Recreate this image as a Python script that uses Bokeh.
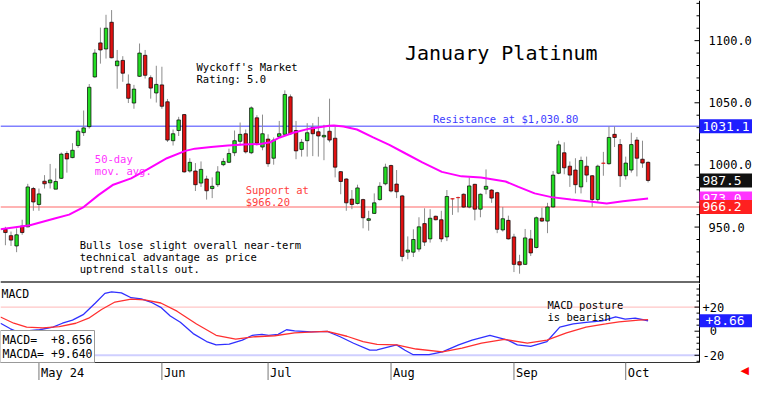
from bokeh.plotting import figure
from bokeh.models import Range1d, Label
from bokeh.layouts import column
from bokeh.embed import file_html
from bokeh.resources import INLINE
from bokeh.core.properties import value

# ---------------- data ----------------
opens = [948.2, 943.1, 934.8, 950.8, 950.2, 981.0, 968.2, 986.9, 985.6, 980.5,
         989.2, 1009.2, 1005.9, 1015.6, 1026.0, 1030.8, 1070.8, 1098.2, 1093.3, 1114.8,
         1079.8, 1084.1, 1065.1, 1049.8, 1071.3, 1088.2, 1070.2, 1057.9, 1064.4, 1050.8,
         1019.5, 1027.7, 1040.5, 995.1, 995.1, 985.4, 988.7, 981.0, 984.1, 1000.2,
         1002.1, 1009.8, 1019.0, 1025.1, 1009.8, 1037.9, 1014.4, 1020.8, 1005.4, 1022.8,
         1024.6, 1054.8, 1027.7, 1012.5, 1019.5, 1030.2, 1026.7, 1022.5, 1027.1, 1021.5,
         994.6, 988.7, 972.5, 969.0, 972.1, 955.4, 961.0, 972.1, 984.8, 999.5,
         984.6, 975.1, 929.8, 929.8, 932.3, 952.8, 940.5, 958.7, 955.9, 942.1,
         972.8, 973.8, 976.4, 966.1, 984.4, 964.4, 980.5, 979.8, 977.7, 947.7,
         955.4, 942.1, 922.1, 920.0, 940.5, 933.6, 957.1, 954.8, 966.2, 993.3,
         1009.8, 999.0, 995.9, 982.3, 999.0, 991.3, 972.1, 1001.5, 1001.0, 1024.6,
         1016.4, 991.3, 995.9, 1020.0, 1004.6, 1002.1]
highs = [950.2, 946.4, 949.0, 955.9, 984.8, 982.3, 981.0, 991.8, 1000.8, 997.2,
         1010.0, 1011.0, 1017.5, 1028.5, 1043.8, 1065.1, 1093.1, 1110.5, 1120.8, 1124.6,
         1092.5, 1087.5, 1072.8, 1064.4, 1097.7, 1092.5, 1072.1, 1079.8, 1079.0, 1053.1,
         1028.5, 1038.7, 1041.0, 1005.4, 1001.5, 1002.8, 991.3, 990.0, 999.0, 1005.4,
         1013.1, 1027.7, 1034.1, 1028.5, 1047.1, 1040.0, 1040.5, 1024.6, 1022.1, 1035.4,
         1060.0, 1056.7, 1035.4, 1020.8, 1033.6, 1033.6, 1038.7, 1032.3, 1053.3, 1031.8,
         995.1, 989.2, 979.8, 984.1, 972.8, 963.1, 977.1, 986.1, 1001.0, 1000.2,
         995.9, 975.9, 942.5, 948.2, 957.9, 965.1, 964.4, 959.2, 963.1, 979.8,
         973.3, 974.5, 977.1, 990.0, 984.8, 977.1, 996.4, 980.5, 978.4, 966.2,
         959.2, 944.6, 927.7, 948.5, 947.7, 958.5, 965.6, 969.5, 995.1, 1019.5,
         1018.2, 1002.8, 1005.4, 1006.7, 1006.7, 991.8, 1000.2, 1010.5, 1031.0, 1031.0,
         1020.8, 1006.7, 1025.9, 1022.5, 1019.5, 1002.8]
lows = [935.4, 934.8, 929.8, 943.8, 949.8, 963.1, 963.1, 981.0, 981.0, 980.5,
        988.7, 993.8, 1005.4, 1013.8, 1023.3, 1029.2, 1070.2, 1081.5, 1085.6, 1085.8,
        1061.3, 1066.9, 1049.8, 1045.2, 1070.8, 1069.5, 1053.3, 1050.2, 1045.2, 1018.5,
        1015.6, 1023.3, 993.8, 993.8, 979.0, 982.3, 972.1, 973.3, 982.3, 999.0,
        1001.5, 1007.1, 1015.6, 1009.2, 1008.7, 1015.6, 1011.8, 998.5, 1000.2, 1022.1,
        1023.3, 1024.1, 1004.6, 1006.7, 1006.7, 1007.1, 1006.7, 1003.8, 1018.2, 990.0,
        976.4, 963.1, 964.4, 968.2, 949.0, 947.1, 960.5, 971.3, 983.6, 977.9,
        973.3, 922.5, 924.1, 925.9, 930.2, 934.8, 937.5, 955.4, 937.9, 938.7,
        959.8, 961.8, 965.5, 965.1, 955.4, 957.9, 976.4, 969.5, 945.1, 946.4,
        940.0, 913.8, 912.5, 919.5, 926.7, 932.8, 954.1, 945.1, 965.6, 992.5,
        992.5, 982.3, 977.1, 977.1, 986.1, 966.2, 970.2, 991.3, 1000.2, 1014.4,
        982.3, 988.2, 993.8, 990.8, 997.7, 985.9]
closes = [945.6, 939.5, 943.8, 945.6, 982.3, 970.2, 976.7, 984.8, 987.9, 986.7,
          1008.7, 1004.8, 1011.8, 1027.1, 1029.8, 1062.5, 1090.0, 1092.5, 1110.0, 1086.2,
          1083.6, 1073.8, 1053.6, 1061.0, 1090.0, 1072.1, 1061.8, 1064.8, 1047.2, 1020.0,
          1025.1, 1036.2, 994.4, 1002.1, 984.1, 996.4, 979.2, 982.8, 994.4, 1002.8,
          1009.2, 1019.5, 1024.6, 1010.5, 1045.9, 1017.5, 1025.1, 1001.0, 1020.0, 1025.1,
          1056.7, 1025.1, 1011.3, 1018.2, 1025.9, 1025.1, 1023.3, 1023.8, 1020.0, 998.2,
          986.7, 969.5, 968.2, 981.5, 957.5, 956.7, 969.5, 982.8, 998.2, 979.0,
          978.4, 926.4, 931.5, 940.0, 950.2, 937.9, 957.1, 955.9, 940.5, 974.6,
          972.6, 973.6, 966.1, 983.1, 964.4, 976.4, 982.8, 973.3, 948.2, 956.7,
          940.5, 920.0, 919.5, 941.3, 929.2, 957.5, 954.8, 966.2, 991.8, 1016.2,
          997.7, 991.8, 984.1, 1003.6, 991.8, 972.1, 999.0, 1001.3, 1022.1, 1022.1,
          991.3, 1001.5, 1016.4, 1005.4, 1001.5, 987.5]

ma_idx = [0.12, 5.4, 9.8, 12.4, 15.0, 17.7, 20.3, 23.5, 26.4, 29.9, 33.2, 34.9, 37.8,
          40.8, 43.7, 46.6, 48.4, 50.1, 52.5, 55.4, 58.9, 59.8, 61.5, 63.9, 66.8, 69.7,
          72.6, 75.6, 79.1, 82.6, 86.1, 90.5, 92.8, 95.7, 98.7, 102.2, 105.1, 108.6,
          111.5, 116.0]
ma_val = [948.2, 951.5, 956.9, 960.0, 966.1, 975.9, 984.1, 989.2, 996.4, 1005.4, 1011.3,
          1013.1, 1014.4, 1015.6, 1016.4, 1016.9, 1018.2, 1022.1, 1025.9, 1029.2, 1031.5,
          1031.8, 1031.0, 1028.5, 1022.1, 1016.2, 1009.2, 1002.1, 994.4, 990.8, 989.8,
          986.7, 982.3, 977.1, 974.1, 972.1, 970.8, 969.0, 970.8, 973.0]

macd_idx = [0.12, 1.9, 3.9, 4.8, 7.1, 9.5, 11.2, 13.0, 15.0, 17.1, 18.8, 20.0, 21.75,
            23.5, 25.3, 27.0, 28.8, 30.5, 32.3, 34.6, 37.0, 38.7, 41.05, 43.4, 45.2,
            46.9, 48.1, 49.8, 51.3, 52.75, 55.7, 58.6, 60.9, 63.3, 66.2, 67.5, 71.0,
            72.5, 73.9, 76.8, 79.2, 82.1, 84.5, 87.7, 90.9, 92.6, 95.0, 97.9, 100.2,
            102.6, 104.9, 107.8, 110.2, 111.9, 113.7, 116.0]
macd_val = [6.6, 2.0, -2.0, 0.2, 1.2, 3.4, 6.6, 9.2, 14.0, 23.4, 31.4, 32.6, 31.8,
            27.8, 26.8, 24.2, 19.8, 12.6, 7.4, -2.0, -8.6, -11.4, -10.8, -7.4, -3.4,
            -2.6, -3.4, -2.6, 1.2, 0.2, -0.6, -0.2, -4.6, -10.0, -15.8, -15.6, -11.4,
            -15.8, -19.4, -19.4, -17.2, -11.4, -7.4, -3.4, -7.4, -11.4, -12.6, -8.6, 3.4,
            6.0, 7.4, 8.6, 11.8, 10.0, 10.8, 8.66]
sig_idx = [0.12, 2.5, 4.8, 7.7, 10.65, 13.6, 15.9, 18.2, 20.6, 23.5, 25.9, 28.8, 31.7,
           35.2, 38.7, 42.2, 45.7, 49.2, 52.75, 56.3, 58.6, 62.1, 65.0, 67.5, 71.0,
           74.5, 79.2, 82.7, 86.2, 90.3, 94.4, 97.9, 101.4, 104.9, 108.4, 110.8, 114.3,
           116.0]
sig_val = [11.8, 6.6, 3.4, 2.8, 3.8, 6.6, 10.8, 18.0, 24.2, 26.6, 26.0, 23.4, 16.6,
           6.0, -3.4, -6.6, -4.6, -3.8, -1.4, -0.6, -0.2, -4.2, -8.6, -11.0, -11.4,
           -14.8, -17.2, -14.0, -10.0, -6.8, -10.0, -7.4, -1.4, 3.4, 6.0, 7.8, 9.2,
           9.64]

date_ticks = [7, 29, 48, 70, 92, 112]
date_labels = ["May 24", "Jun", "Jul", "Aug", "Sep", "Oct"]
price_ticks = [950, 1000, 1050, 1100]
price_labels = ["950.0", "1000.0", "1050.0", "1100.0"]
price_minor = [910, 920, 930, 940, 960, 970, 980, 990, 1010, 1020, 1030, 1040,
               1060, 1070, 1080, 1090, 1110, 1120, 1130]
macd_ticks = [-20, 0, 20]
macd_labels = ["-20", "\u00a00", "+20"]
macd_minor = [-25, -15, -10, -5, 5, 10, 15, 25, 30, 35]
resistance = 1031.1
support = 966.2
last_close = 987.5
last_ma = 973.0
last_macd = 8.656
last_macda = 9.640

# ---------------- geometry / style ----------------
FONT = "DejaVu Sans Mono"
W = 752          # total width (frame covers all of it)
AXP = 699        # pixel position of the right axis
X0, X1 = 0.12, 125.2
DX = (X1 - X0) / AXP
XR = X0 + DX * W
H1 = 283
Y0, Y1 = 904.6, 1132.3
DY = (Y1 - Y0) / H1
H2F = 79         # macd plotting area height
H2 = 97          # plus date-axis strip
M0, M1 = -26.0, 39.6
DM = (M1 - M0) / H2F
MB = M0 - (H2 - H2F) * DM


def make_fig(h, yr):
    f = figure(width=W, height=h, x_range=Range1d(X0, XR), y_range=yr,
               x_axis_location=None, y_axis_location=None, toolbar_location=None,
               output_backend="svg", min_border=0, outline_line_color=None)
    f.grid.visible = False
    return f


def lbl(fig, x, y, text, color="black", size="10.5px", baseline="top", lh=1.0, **kw):
    fig.add_layout(Label(x=x, y=y, text=text, text_color=color, text_font=FONT,
                         text_font_size=size, text_baseline=baseline, text_align="left",
                         text_line_height=lh, **kw))


# ---------------- price panel ----------------
p = make_fig(H1, Range1d(Y0, Y1))

idx = list(range(1, len(opens) + 1))
tops = [max(o, c) for o, c in zip(opens, closes)]
bots = [min(o, c) for o, c in zip(opens, closes)]
cols = ["#22dd22" if c > o else "#e01010" for o, c in zip(opens, closes)]
lcols = ["#e01010" if abs(c - o) < 0.5 else "black" for o, c in zip(opens, closes)]

p.segment(x0=[X0, X0], y0=[resistance, support], x1=[X1, X1], y1=[resistance, support],
          line_color=["#8080ff", "#ff9a9a"], line_width=1.5)
p.segment(x0=[X0], y0=[Y0 + 1.2 * DY], x1=[X1], y1=[Y0 + 1.2 * DY],
          line_color="#6a6a6a", line_width=2.5)

p.segment(x0=idx, y0=highs, x1=idx, y1=lows, color="#8c8c8c", line_width=1)
p.vbar(x=idx, width=0.62, top=tops, bottom=bots, fill_color=cols, line_color=lcols,
       line_width=0.7)
p.line(ma_idx, ma_val, color="#ff00ff", line_width=2)

# right axis drawn by hand
p.segment(x0=[X1], y0=[Y0], x1=[X1], y1=[Y1], line_color="black", line_width=1)
p.segment(x0=[X1 - 5 * DX] * len(price_ticks), y0=price_ticks, x1=[X1] * len(price_ticks),
          y1=price_ticks, line_color="black", line_width=1)
p.segment(x0=[X1 - 3 * DX] * len(price_minor), y0=price_minor, x1=[X1] * len(price_minor),
          y1=price_minor, line_color="black", line_width=1)
p.text(x=[X1] * len(price_ticks), y=price_ticks, text=price_labels, x_offset=9,
       text_font=value(FONT), text_font_size="12px", text_baseline="middle",
       text_align="left", text_color="black")

box_vals = [resistance, last_close, last_ma, support]
box_text = ["%.1f" % v for v in box_vals]
box_cols = ["#1f1fff", "#111111", "#ff33ff", "#ff2020"]
for v, t, c in zip(box_vals, box_text, box_cols):
    p.quad(left=[X1], right=[XR], top=[v + 7 * DY], bottom=[v - 7 * DY],
           fill_color=c, line_color=None)
    p.text(x=[X1], y=[v], text=[t], x_offset=3, text_font=value(FONT),
           text_font_size="13px", text_baseline="middle", text_align="left",
           text_color="white")

lbl(p, 72.5, 1090.0, "January Platinum", size="20px", baseline="middle")
lbl(p, 35.2, 1083.5, "Wyckoff's Market\nRating: 5.0")
lbl(p, 77.5, 1037.0, "Resistance at $1,030.80", color="#3c3cff", baseline="middle")
lbl(p, 17.0, 1010.0, "50-day\nmov. avg.", color="#ff33ff")
lbl(p, 44.0, 985.0, "Support at\n$966.20", color="#ff4040")
lbl(p, 14.3, 940.5, "Bulls lose slight overall near-term\ntechnical advantage as price\nuptrend stalls out.")

# ---------------- MACD panel ----------------
p2 = make_fig(H2, Range1d(MB, M1))
p2.segment(x0=[X0, X0], y0=[20, -20], x1=[X1, X1], y1=[20, -20],
           line_color=["#ffb8b8", "#cfcfff"], line_width=[1, 2])
p2.line(macd_idx, macd_val, color="#3030ff", line_width=1.3)
p2.line(sig_idx, sig_val, color="#ff3030", line_width=1.3)

# right axis
p2.segment(x0=[X1], y0=[M0], x1=[X1], y1=[M1], line_color="black", line_width=1)
p2.segment(x0=[X1 - 5 * DX] * len(macd_ticks), y0=macd_ticks, x1=[X1] * len(macd_ticks),
           y1=macd_ticks, line_color="black", line_width=1)
p2.segment(x0=[X1 - 3 * DX] * len(macd_minor), y0=macd_minor, x1=[X1] * len(macd_minor),
           y1=macd_minor, line_color="black", line_width=1)
p2.text(x=[X1] * len(macd_ticks), y=macd_ticks, text=macd_labels, x_offset=3,
        text_font=value(FONT), text_font_size="12px", text_baseline="middle",
        text_align="left", text_color="black")
p2.quad(left=[X1], right=[XR], top=[last_macd + 6.5 * DM], bottom=[last_macd - 6.5 * DM],
        fill_color="#1f1fff", line_color=None)
p2.text(x=[X1], y=[last_macd], text=["%+.2f" % last_macd], x_offset=6,
        text_font=value(FONT), text_font_size="13px", text_baseline="middle",
        text_align="left", text_color="white")

# date axis
p2.segment(x0=[X0], y0=[M0], x1=[X1], y1=[M0], line_color="#333333", line_width=1)
p2.segment(x0=date_ticks, y0=[M0] * len(date_ticks), x1=date_ticks,
           y1=[MB] * len(date_ticks), line_color="#777777", line_width=1)
p2.text(x=date_ticks, y=[M0 - 3 * DM] * len(date_ticks), text=date_labels, x_offset=2,
        text_font=value(FONT), text_font_size="12px", text_baseline="top",
        text_align="left", text_color="black")
p2.text(x=[XR - 12 * DX], y=[M0 - 8 * DM], text=["\u25c0"], text_font=value("DejaVu Sans"),
        text_font_size="11px", text_baseline="middle", text_align="left",
        text_color="#ff0000")

lbl(p2, 0.3, 36.5, "MACD", size="11.5px")
lbl(p2, 98.0, 26.5, "MACD posture\nis bearish")
p2.add_layout(Label(x=X0, y=M0, y_offset=0,
                    text="MACD=\u00a0\u00a0%+.3f\nMACDA=\u00a0%+.3f" % (last_macd, last_macda),
                    text_font=FONT, text_font_size="11.5px", text_baseline="bottom",
                    text_align="left", text_line_height=1.0, text_color="black",
                    background_fill_color="white", border_line_color="#999999", padding=2))

layout = column(p, p2, spacing=0)
open("out.html", "w").write(file_html(layout, INLINE))
